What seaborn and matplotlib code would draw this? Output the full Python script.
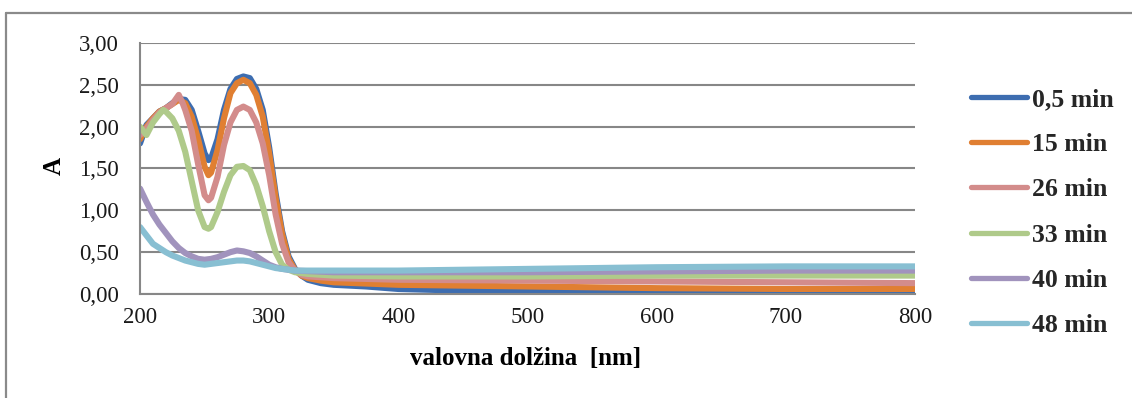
import numpy as np
import pandas as pd
import seaborn as sns
import matplotlib.pyplot as plt
from matplotlib.lines import Line2D
from matplotlib.ticker import FuncFormatter, MultipleLocator

# UV-Vis absorption spectra recorded at different reaction times
labels = ["0,5 min", "15 min", "26 min", "33 min", "40 min", "48 min"]

wl_05 = [200, 205, 210, 215, 220, 225, 230, 235, 240, 245, 250, 253, 255, 260, 265, 270, 275, 280, 285,
         290, 295, 300, 305, 310, 315, 320, 325, 330, 340, 350, 375, 400, 450, 500, 600, 700, 800]
abs_05 = [1.80, 2.02, 2.10, 2.18, 2.22, 2.28, 2.33, 2.32, 2.20, 1.95, 1.68, 1.60, 1.62, 1.85, 2.20, 2.45, 2.57, 2.60, 2.58,
          2.45, 2.20, 1.75, 1.20, 0.75, 0.45, 0.30, 0.22, 0.17, 0.13, 0.11, 0.09, 0.06, 0.04, 0.03, 0.02, 0.01, 0.01]

wl_15 = [200, 205, 210, 215, 220, 225, 230, 235, 240, 245, 250, 253, 255, 260, 265, 270, 275, 280, 285,
         290, 295, 300, 305, 310, 315, 320, 325, 330, 340, 350, 400, 450, 500, 600, 700, 800]
abs_15 = [1.85, 2.00, 2.10, 2.18, 2.22, 2.27, 2.32, 2.28, 2.12, 1.85, 1.52, 1.42, 1.45, 1.72, 2.10, 2.40, 2.52, 2.56, 2.52,
          2.38, 2.12, 1.68, 1.15, 0.72, 0.42, 0.29, 0.22, 0.19, 0.16, 0.14, 0.11, 0.10, 0.09, 0.07, 0.06, 0.06]

wl_26 = [200, 205, 210, 215, 220, 225, 230, 233, 235, 240, 245, 250, 253, 255, 260, 265, 270, 275, 280, 285,
         290, 295, 300, 305, 310, 315, 320, 325, 330, 350, 400, 500, 600, 700, 800]
abs_26 = [1.90, 1.98, 2.08, 2.17, 2.22, 2.27, 2.38, 2.28, 2.20, 1.95, 1.55, 1.18, 1.12, 1.15, 1.40, 1.78, 2.05, 2.20, 2.24, 2.20,
          2.05, 1.80, 1.42, 0.95, 0.60, 0.38, 0.28, 0.23, 0.21, 0.19, 0.17, 0.16, 0.15, 0.14, 0.13]

wl_33 = [200, 205, 210, 215, 218, 220, 225, 230, 235, 240, 245, 250, 253, 255, 260, 265, 270, 275, 280, 285,
         290, 295, 300, 305, 310, 315, 320, 330, 350, 400, 500, 600, 700, 800]
abs_33 = [2.00, 1.90, 2.05, 2.15, 2.20, 2.18, 2.10, 1.95, 1.70, 1.35, 1.00, 0.80, 0.78, 0.80, 0.98, 1.22, 1.42, 1.52, 1.53, 1.48,
          1.30, 1.05, 0.75, 0.50, 0.35, 0.29, 0.26, 0.24, 0.22, 0.21, 0.21, 0.22, 0.22, 0.22]

wl_40 = [200, 205, 210, 215, 220, 225, 230, 235, 240, 245, 250, 255, 260, 265, 270, 275, 280, 285,
         290, 295, 300, 305, 310, 320, 350, 400, 500, 600, 700, 800]
abs_40 = [1.26, 1.10, 0.95, 0.83, 0.73, 0.63, 0.55, 0.49, 0.45, 0.42, 0.41, 0.42, 0.44, 0.47, 0.50, 0.52, 0.51, 0.49,
          0.45, 0.40, 0.35, 0.32, 0.30, 0.28, 0.26, 0.26, 0.26, 0.27, 0.28, 0.28]

wl_48 = [200, 205, 210, 215, 220, 225, 230, 235, 240, 245, 250, 255, 260, 265, 270, 275, 280, 285,
         290, 295, 300, 305, 310, 320, 350, 400, 450, 500, 550, 600, 700, 800]
abs_48 = [0.80, 0.70, 0.60, 0.55, 0.50, 0.46, 0.43, 0.40, 0.38, 0.36, 0.35, 0.36, 0.37, 0.38, 0.39, 0.40, 0.40, 0.39,
          0.37, 0.35, 0.33, 0.31, 0.30, 0.28, 0.28, 0.28, 0.29, 0.30, 0.31, 0.32, 0.33, 0.33]

colors = ["#3d6db0", "#e07f32", "#d38c8b", "#afca8a", "#a193bd", "#88bfd2"]

series = [(wl_05, abs_05), (wl_15, abs_15), (wl_26, abs_26),
          (wl_33, abs_33), (wl_40, abs_40), (wl_48, abs_48)]
frames = []
for lab, (w, a) in zip(labels, series):
    frames.append(pd.DataFrame({"wl": w, "A": a, "t": lab}))
df = pd.concat(frames, ignore_index=True)

sns.set_theme(style="white")
plt.rcParams["font.family"] = ["Liberation Serif", "DejaVu Serif"]

fig = plt.figure(figsize=(11.32, 3.98), dpi=100)
ax = fig.add_axes([0.1237, 0.2613, 0.8083 - 0.1237, 0.892 - 0.2613])

sns.lineplot(data=df, x="wl", y="A", hue="t", hue_order=labels, palette=colors,
             estimator=None, sort=True, linewidth=4.4, ax=ax, legend=False,
             solid_capstyle="round", solid_joinstyle="round")

ax.set_xlim(200, 800)
ax.set_ylim(0, 3.0)
ax.xaxis.set_major_locator(MultipleLocator(100))
ax.yaxis.set_major_locator(MultipleLocator(0.5))
ax.yaxis.set_major_formatter(FuncFormatter(lambda v, p: f"{v:.2f}".replace(".", ",")))
ax.tick_params(axis="both", length=0, labelsize=16.5, colors="#1a1a1a")
ax.tick_params(axis="y", pad=15.5)
ax.tick_params(axis="x", pad=9)

ax.grid(axis="y", color="#878787", linewidth=1.5)
ax.set_axisbelow(True)
for side in ["top", "right"]:
    ax.spines[side].set_visible(False)
for side in ["left", "bottom"]:
    ax.spines[side].set_color("#878787")
    ax.spines[side].set_linewidth(1.5)

ax.set_xlabel("valovna dolžina  [nm]", fontsize=18, fontweight="bold", color="#000000")
ax.xaxis.set_label_coords(0.497, -0.212)
ax.set_ylabel("A", fontsize=18, fontweight="bold", color="#000000")
ax.yaxis.set_label_coords(-0.0955, 0.51)

handles = [Line2D([0], [0], color=c, linewidth=3.8, solid_capstyle="round") for c in colors]
fig.legend(handles, labels, loc="center left", bbox_to_anchor=(0.849, 0.466), frameon=False,
           prop={"size": 18.5, "weight": "bold"}, handlelength=2.15, handletextpad=0.2,
           labelspacing=0.86, borderaxespad=0)

# outer chart border
fig.add_artist(Line2D([0.0053, 1.0], [0.967, 0.967], transform=fig.transFigure, color="#8a8a8a", linewidth=1.6))
fig.add_artist(Line2D([0.0053, 0.0053], [0.0, 0.967], transform=fig.transFigure, color="#8a8a8a", linewidth=1.6))

fig.savefig("out.png", dpi=100, facecolor="white")
